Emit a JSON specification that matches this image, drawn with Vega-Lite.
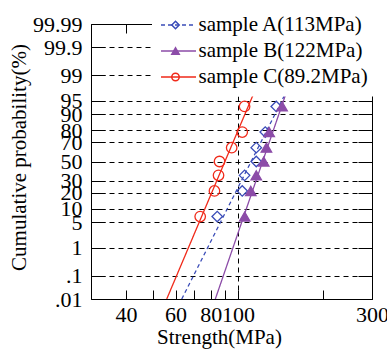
{
  "$schema": "https://vega.github.io/schema/vega-lite/v6.json",
  "autosize": {"type": "none"},
  "padding": {"left": 91, "top": 24, "right": 15, "bottom": 52},
  "width": 281,
  "height": 275,
  "background": "white",
  "config": {
    "view": {"stroke": null},
    "axis": {"labelFont": "Liberation Serif", "titleFont": "Liberation Serif", "labelColor": "black", "titleColor": "black", "domainColor": "black", "domainWidth": 1, "tickColor": "black", "tickWidth": 1, "titleFontWeight": "normal"},
    "legend": {"labelFont": "Liberation Serif", "labelColor": "black"}
  },
  "datasets": {
    "lines": [
      {"sample": "sample A(113MPa)", "strength": 63.1, "prob": 0.01},
      {"sample": "sample A(113MPa)", "strength": 159.0, "prob": 99},
      {"sample": "sample B(122MPa)", "strength": 83.1, "prob": 0.01},
      {"sample": "sample B(122MPa)", "strength": 156.0, "prob": 99},
      {"sample": "sample C(89.2MPa)", "strength": 55.8, "prob": 0.01},
      {"sample": "sample C(89.2MPa)", "strength": 121.1, "prob": 99}
    ],
    "points": [
      {"sample": "sample A(113MPa)", "strength": 84.4, "prob": 7.14},
      {"sample": "sample A(113MPa)", "strength": 103.6, "prob": 21.43},
      {"sample": "sample A(113MPa)", "strength": 105.6, "prob": 35.71},
      {"sample": "sample A(113MPa)", "strength": 116.2, "prob": 50},
      {"sample": "sample A(113MPa)", "strength": 116.2, "prob": 64.29},
      {"sample": "sample A(113MPa)", "strength": 125.1, "prob": 78.57},
      {"sample": "sample A(113MPa)", "strength": 136.9, "prob": 92.86},
      {"sample": "sample B(122MPa)", "strength": 105.7, "prob": 7.14},
      {"sample": "sample B(122MPa)", "strength": 111.1, "prob": 21.43},
      {"sample": "sample B(122MPa)", "strength": 116.2, "prob": 35.71},
      {"sample": "sample B(122MPa)", "strength": 123.5, "prob": 50},
      {"sample": "sample B(122MPa)", "strength": 126.3, "prob": 64.29},
      {"sample": "sample B(122MPa)", "strength": 129.2, "prob": 78.57},
      {"sample": "sample B(122MPa)", "strength": 143.6, "prob": 92.86},
      {"sample": "sample C(89.2MPa)", "strength": 73.4, "prob": 7.14},
      {"sample": "sample C(89.2MPa)", "strength": 82.5, "prob": 21.43},
      {"sample": "sample C(89.2MPa)", "strength": 85.3, "prob": 35.71},
      {"sample": "sample C(89.2MPa)", "strength": 86.0, "prob": 50},
      {"sample": "sample C(89.2MPa)", "strength": 95.0, "prob": 64.29},
      {"sample": "sample C(89.2MPa)", "strength": 103.6, "prob": 78.57},
      {"sample": "sample C(89.2MPa)", "strength": 105.6, "prob": 92.86}
    ]
  },
  "layer": [
    {
      "data": {"name": "lines"},
      "mark": {"type": "line", "strokeWidth": 1.3, "clip": true},
      "encoding": {
        "x": {
          "field": "strength", "type": "quantitative",
          "scale": {"type": "log", "domain": [30, 300], "nice": false},
          "axis": {
            "orient": "bottom",
            "values": [40, 50, 60, 70, 80, 90, 100, 200, 300],
            "labelExpr": "indexof([40, 60, 80, 100, 300], datum.value) >= 0 ? toString(datum.value) : ''",
            "labelFontSize": 22, "labelOverlap": false, "labelFlush": false, "labelPadding": 14,
            "tickSize": -9,
            "grid": true, "gridColor": "black", "gridDash": [5, 4], "gridWidth": 1,
            "gridOpacity": {"condition": {"test": "datum.value == 100", "value": 1}, "value": 0},
            "title": "Strength(MPa)", "titleFontSize": 21, "titleX": 128, "titleY": 44, "titleBaseline": "alphabetic", "titleAlign": "center"
          }
        },
        "y": {
          "field": "prob", "type": "quantitative",
          "scale": {
            "type": "linear", "nice": false, "zero": false,
            "domain": [0.01, 0.1, 1, 5, 10, 20, 30, 50, 70, 80, 90, 95, 99, 99.9, 99.99],
            "range": [275, 251.75, 223.51, 198.32, 184.88, 168.62, 156.89, 137.5, 118.11, 106.38, 90.12, 76.68, 51.49, 23.25, 0]
          },
          "axis": {
            "orient": "left",
            "values": [0.01, 0.1, 1, 5, 10, 20, 30, 50, 70, 80, 90, 95, 99, 99.9, 99.99],
            "labelExpr": "datum.value < 1 ? replace(toString(datum.value), '0.', '.') : toString(datum.value)",
            "labelFontSize": 22, "labelOverlap": false, "labelFlush": false, "labelPadding": 23,
            "tickSize": -14,
            "grid": true, "gridColor": "black", "gridDash": [5, 4], "gridWidth": 1,
            "title": "Cumulative probability(%)", "titleFontSize": 21, "titleAngle": 270, "titleX": -66, "titleY": 133, "titleBaseline": "alphabetic", "titleAlign": "center"
          }
        },
        "color": {
          "field": "sample", "type": "nominal",
          "scale": {"range": ["#3a4cb8", "#8c4ca8", "#f02a1a"]},
          "legend": {"orient": "none", "legendX": 61, "legendY": -17.5, "title": null, "symbolType": "stroke", "symbolSize": 1225, "symbolStrokeWidth": 1.5, "labelFont": "Liberation Serif", "labelFontSize": 21, "labelOffset": 1.5, "rowPadding": 4, "clipHeight": 21, "padding": 8, "fillColor": "white", "strokeColor": "white", "labelLimit": 400, "zindex": 5}
        },
        "strokeDash": {
          "field": "sample", "type": "nominal",
          "scale": {"range": [[4, 3], [1, 0], [1, 0]]},
          "legend": {"orient": "none", "legendX": 61, "legendY": -17.5, "title": null, "symbolType": "stroke", "symbolSize": 1225, "symbolStrokeWidth": 1.5, "labelFont": "Liberation Serif", "labelFontSize": 21, "labelOffset": 1.5, "rowPadding": 4, "clipHeight": 21, "padding": 8, "fillColor": "white", "strokeColor": "white", "labelLimit": 400, "zindex": 5}
        }
      }
    },
    {
      "data": {"name": "points"},
      "mark": {"type": "point", "filled": false, "size": 110, "strokeWidth": 1.3, "opacity": 1},
      "encoding": {
        "x": {
          "field": "strength", "type": "quantitative",
          "axis": {"orient": "top", "values": [40, 50, 60, 70, 80, 90, 100, 200, 300], "labels": false, "tickSize": -9, "grid": false, "title": null}
        },
        "y": {
          "field": "prob", "type": "quantitative",
          "axis": {"orient": "right", "values": [0.01, 0.1, 1, 5, 10, 20, 30, 50, 70, 80, 90, 95, 99, 99.9, 99.99], "labels": false, "tickSize": -14, "grid": false, "title": null}
        },
        "shape": {
          "field": "sample", "type": "nominal",
          "scale": {"domain": ["sample A(113MPa)", "sample B(122MPa)", "sample C(89.2MPa)"], "range": ["diamond", "triangle-up", "circle"]},
          "legend": {"orient": "none", "legendX": 66, "legendY": -17.5, "title": null, "symbolSize": 55, "symbolStrokeWidth": 1.5, "labelFont": "Liberation Serif", "labelFontSize": 21, "labelOffset": 1.5, "labelOpacity": 0, "rowPadding": 4, "clipHeight": 21, "padding": 8, "labelLimit": 400, "zindex": 6}
        },
        "stroke": {
          "field": "sample", "type": "nominal",
          "scale": {"domain": ["sample A(113MPa)", "sample B(122MPa)", "sample C(89.2MPa)"], "range": ["#3a4cb8", "#8c4ca8", "#f02a1a"]},
          "legend": {"orient": "none", "legendX": 66, "legendY": -17.5, "title": null, "symbolSize": 55, "symbolStrokeWidth": 1.5, "labelFont": "Liberation Serif", "labelFontSize": 21, "labelOffset": 1.5, "labelOpacity": 0, "rowPadding": 4, "clipHeight": 21, "padding": 8, "labelLimit": 400, "zindex": 6}
        },
        "fill": {
          "field": "sample", "type": "nominal",
          "scale": {"domain": ["sample A(113MPa)", "sample B(122MPa)", "sample C(89.2MPa)"], "range": ["transparent", "#8c4ca8", "transparent"]},
          "legend": {"orient": "none", "legendX": 66, "legendY": -17.5, "title": null, "symbolSize": 55, "symbolStrokeWidth": 1.5, "labelFont": "Liberation Serif", "labelFontSize": 21, "labelOffset": 1.5, "labelOpacity": 0, "rowPadding": 4, "clipHeight": 21, "padding": 8, "labelLimit": 400, "zindex": 6}
        }
      }
    }
  ],
  "resolve": {"axis": {"x": "independent", "y": "independent"}}
}
